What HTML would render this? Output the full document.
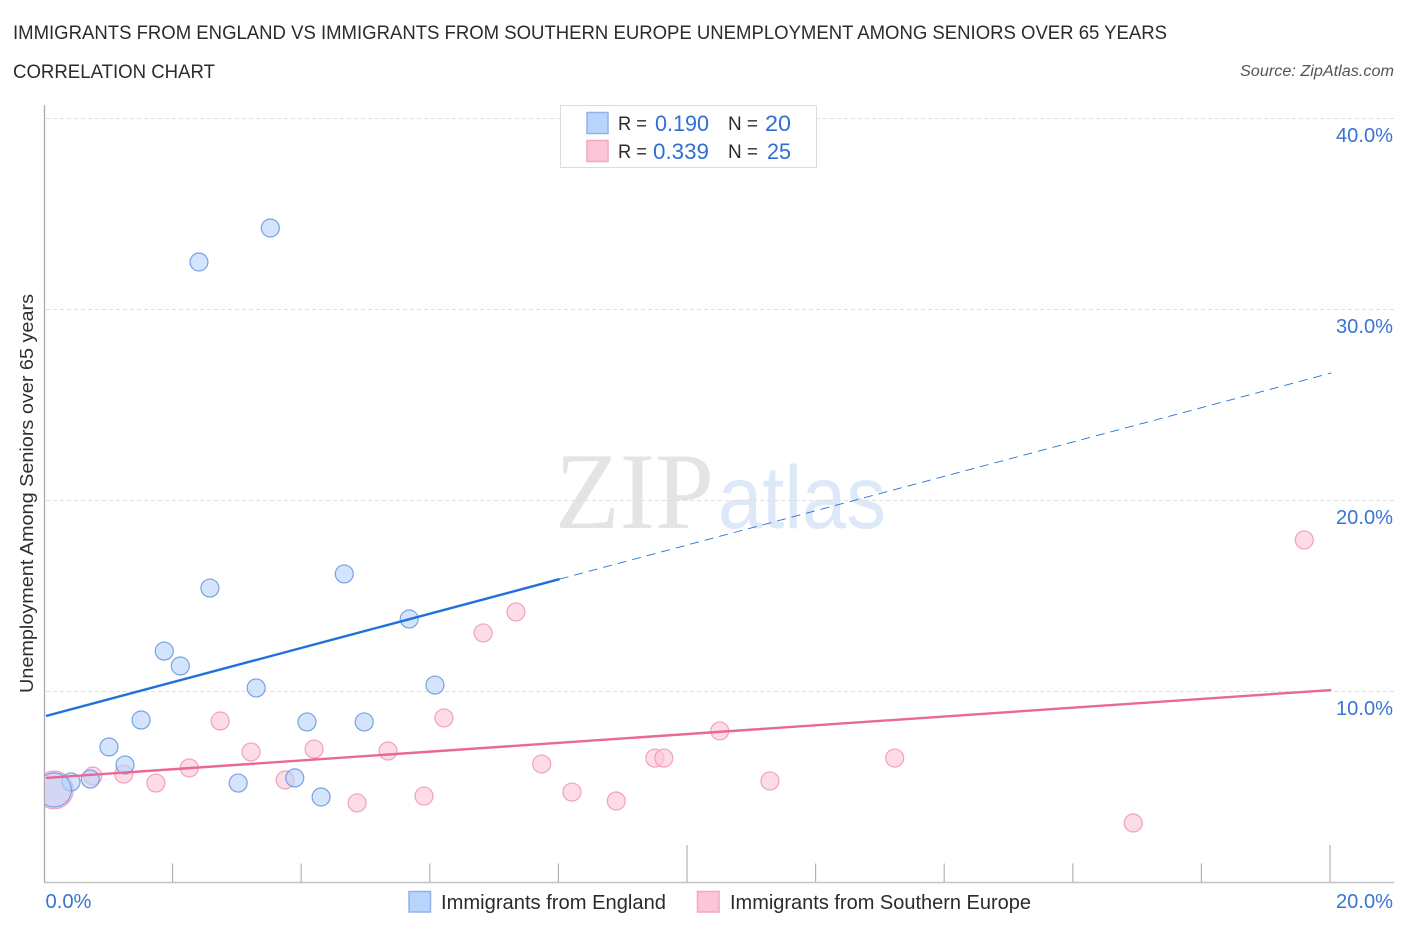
<!DOCTYPE html>
<html lang="en">
<head>
<meta charset="utf-8">
<title>Immigrants from England vs Immigrants from Southern Europe Correlation Chart</title>
<style>
html,body{margin:0;padding:0;background:#fff;width:1406px;height:930px;overflow:hidden}
svg{display:block}
text{font-family:"Liberation Sans",sans-serif}
</style>
</head>
<body>
<svg id="chart" width="1406" height="930" viewBox="0 0 1406 930" xmlns="http://www.w3.org/2000/svg">
  <defs>
    <clipPath id="plot-clip"><rect x="45" y="100" width="1350" height="782"></rect></clipPath>
  </defs>
  <text x="13" y="39" font-size="19.5" fill="#2b2b2b" textLength="1154" lengthAdjust="spacingAndGlyphs">IMMIGRANTS FROM ENGLAND VS IMMIGRANTS FROM SOUTHERN EUROPE UNEMPLOYMENT AMONG SENIORS OVER 65 YEARS</text>
  <text x="13" y="78" font-size="19.5" fill="#2b2b2b" textLength="202" lengthAdjust="spacingAndGlyphs">CORRELATION CHART</text>
  <text x="1394" y="76" font-size="15.5" font-style="italic" fill="#555" text-anchor="end" textLength="154" lengthAdjust="spacingAndGlyphs">Source: ZipAtlas.com</text>

  <g>
    <text x="555" y="528" font-size="109" fill="#e4e4e4" style="font-family:'Liberation Serif',serif" textLength="159" lengthAdjust="spacingAndGlyphs">ZIP</text>
    <text x="718" y="528" font-size="89" fill="#dde8f8" textLength="168" lengthAdjust="spacingAndGlyphs">atlas</text>
  </g>

  <g id="grid"></g>
  <g id="axes"></g>
  <g id="points" clip-path="url(#plot-clip)"></g>
  <g id="trends"></g>
  <g id="labels"></g>

  <text transform="translate(33,693) rotate(-90)" font-size="18.5" fill="#2f2f2f" textLength="399" lengthAdjust="spacingAndGlyphs">Unemployment Among Seniors over 65 years</text>

  <g>
    <rect x="560.5" y="105.5" width="256" height="62" fill="#fff" stroke="#dcdcdc"></rect>
    <rect x="587" y="112.5" width="21" height="21" fill="#b9d4fa" stroke="#8fb4e8" stroke-width="1.5"></rect>
    <rect x="587" y="140.5" width="21" height="21" fill="#fcc6d8" stroke="#f2a9c0" stroke-width="1.5"></rect>
    <text x="618" y="130" font-size="19" fill="#2b2b2b" textLength="29" lengthAdjust="spacingAndGlyphs">R =</text>
    <text x="655" y="131" font-size="22" fill="#2f6fd4" textLength="54" lengthAdjust="spacingAndGlyphs">0.190</text>
    <text x="728" y="130" font-size="19" fill="#2b2b2b" textLength="30" lengthAdjust="spacingAndGlyphs">N =</text>
    <text x="765" y="131" font-size="22" fill="#2f6fd4" textLength="26" lengthAdjust="spacingAndGlyphs">20</text>
    <text x="618" y="158" font-size="19" fill="#2b2b2b" textLength="29" lengthAdjust="spacingAndGlyphs">R =</text>
    <text x="653" y="159" font-size="22" fill="#2f6fd4" textLength="56" lengthAdjust="spacingAndGlyphs">0.339</text>
    <text x="728" y="158" font-size="19" fill="#2b2b2b" textLength="30" lengthAdjust="spacingAndGlyphs">N =</text>
    <text x="767" y="159" font-size="22" fill="#2f6fd4" textLength="24" lengthAdjust="spacingAndGlyphs">25</text>
  </g>

  <g>
    <g>
      <rect x="409" y="891.5" width="21.5" height="20.5" fill="#b9d4fa" stroke="#8fb4e8" stroke-width="1.5"></rect>
      <text x="441" y="909" font-size="20" fill="#2b2b2b" textLength="225" lengthAdjust="spacingAndGlyphs">Immigrants from England</text>
    </g>
    <g>
      <rect x="697.5" y="891.5" width="21.5" height="20.5" fill="#fcc6d8" stroke="#f2a9c0" stroke-width="1.5"></rect>
      <text x="730" y="909" font-size="20" fill="#2b2b2b" textLength="301" lengthAdjust="spacingAndGlyphs">Immigrants from Southern Europe</text>
    </g>
  </g>
</svg>
<script>
const yGridValues = [10, 20, 30, 40];
const yTickLabels = ["10.0%", "20.0%", "30.0%", "40.0%"];
const xTickValues = [2, 4, 6, 8, 10, 12, 14, 16, 18, 20];
const xMajorTicks = [10, 20];
const xEndValues = [0, 20];
const xEndLabels = ["0.0%", "20.0%"];

const englandX = [3.52, 2.41, 4.67, 2.58, 5.68, 1.87, 2.12, 3.30, 6.08, 1.51, 4.09, 4.98, 1.01, 1.26, 0.42, 0.72, 3.90, 3.02, 4.31, 0.16];
const englandY = [34.24, 32.46, 16.13, 15.39, 13.77, 12.09, 11.31, 10.16, 10.31, 8.48, 8.38, 8.38, 7.07, 6.13, 5.24, 5.39, 5.45, 5.18, 4.45, 4.82];
const englandWeight = [1, 1, 1, 1, 1, 1, 1, 1, 1, 1, 1, 1, 1, 1, 1, 1, 1, 1, 1, 3.6];

const europeX = [19.60, 7.34, 6.83, 6.22, 2.74, 10.51, 3.22, 4.20, 5.35, 9.50, 9.64, 13.23, 7.74, 2.26, 1.24, 0.76, 1.74, 3.75, 11.29, 8.21, 5.91, 8.90, 4.87, 16.94, 0.16];
const europeY = [17.91, 14.14, 13.04, 8.59, 8.43, 7.91, 6.81, 6.96, 6.86, 6.49, 6.49, 6.49, 6.18, 5.97, 5.65, 5.55, 5.18, 5.34, 5.29, 4.71, 4.50, 4.24, 4.14, 3.09, 4.82];
const europeWeight = [1, 1, 1, 1, 1, 1, 1, 1, 1, 1, 1, 1, 1, 1, 1, 1, 1, 1, 1, 1, 1, 1, 1, 1, 4.4];

const englandTrendX = [0.03, 8.02];
const englandTrendY = [8.69, 15.86];
const englandForecastX = [8.02, 20.02];
const englandForecastY = [15.86, 26.65];
const europeTrendX = [0.03, 20.02];
const europeTrendY = [5.45, 10.05];

const NS = "http://www.w3.org/2000/svg";
const xScale = v => 44 + v * 64.3;
const yScale = v => 882 - v * 19.1;
const radiusScale = w => 9 * Math.sqrt(w);

function make(parent, tag, attrs, text) {
  const el = document.createElementNS(NS, tag);
  for (const k in attrs) el.setAttribute(k, attrs[k]);
  if (text !== undefined) el.textContent = text;
  parent.appendChild(el);
  return el;
}

const grid = document.getElementById("grid");
const axes = document.getElementById("axes");
const points = document.getElementById("points");
const trends = document.getElementById("trends");
const labels = document.getElementById("labels");

yGridValues.forEach(v => {
  const el = make(grid, "line", {x1: 46, x2: 1394, y1: Math.round(yScale(v)) + 0.5, y2: Math.round(yScale(v)) + 0.5, stroke: "#dedede", "stroke-width": 1, "stroke-dasharray": "4 3"});
  
  
});

const yAxis = make(axes, "line", {x1: 44.5, x2: 44.5, y1: 105, y2: 883, stroke: "#aaaaaa", "stroke-width": 1.3});


const xAxis = make(axes, "line", {x1: 44, x2: 1394, y1: 882.5, y2: 882.5, stroke: "#c4c4c4", "stroke-width": 1.5});



xTickValues.forEach(v => {
  const top = xMajorTicks.includes(v) ? 845 : 863.5;
  const el = make(axes, "line", {x1: xScale(v), x2: xScale(v), y1: top, y2: 882, stroke: "#b2b2b2", "stroke-width": 1.2});
  
  
});

function drawSeries(xs, ys, ws, fill, stroke, name) {
  xs.forEach((x, i) => {
    const el = make(points, "circle", {cx: xScale(x), cy: yScale(ys[i]), r: radiusScale(ws[i]), fill: fill, "fill-opacity": 0.62, stroke: stroke, "stroke-opacity": 0.8, "stroke-width": 1.2});
    
    
  });
}
drawSeries(europeX, europeY, europeWeight, "#fcc6d8", "#ee8fae", "point-southern-europe");
drawSeries(englandX, englandY, englandWeight, "#b9d4fa", "#5b8fdc", "point-england");

const forecast = make(trends, "line", {x1: xScale(englandForecastX[0]), y1: yScale(englandForecastY[0]), x2: xScale(englandForecastX[1]), y2: yScale(englandForecastY[1]), stroke: "#2f6fd4", "stroke-width": 0.9, "stroke-dasharray": "9 6"});


const trendA = make(trends, "line", {x1: xScale(englandTrendX[0]), y1: yScale(englandTrendY[0]), x2: xScale(englandTrendX[1]), y2: yScale(englandTrendY[1]), stroke: "#2070dc", "stroke-width": 2.4});


const trendB = make(trends, "line", {x1: xScale(europeTrendX[0]), y1: yScale(europeTrendY[0]), x2: xScale(europeTrendX[1]), y2: yScale(europeTrendY[1]), stroke: "#e8689a", "stroke-width": 2.4});



yGridValues.forEach((v, i) => {
  const el = make(labels, "text", {x: 1393, y: yScale(v) + 24, "font-size": 20, fill: "#3b74d0", "text-anchor": "end", textLength: 57, lengthAdjust: "spacingAndGlyphs"}, yTickLabels[i]);
  
  
});
xEndValues.forEach((v, i) => {
  const isLast = i === xEndValues.length - 1;
  const el = make(labels, "text", {x: isLast ? 1393 : xScale(v) + 1.5, y: 908, "font-size": 20, fill: "#3b74d0", "text-anchor": isLast ? "end" : "start", textLength: isLast ? 57 : 46, lengthAdjust: "spacingAndGlyphs"}, xEndLabels[i]);
  
  
});
</script>
</body>
</html>
